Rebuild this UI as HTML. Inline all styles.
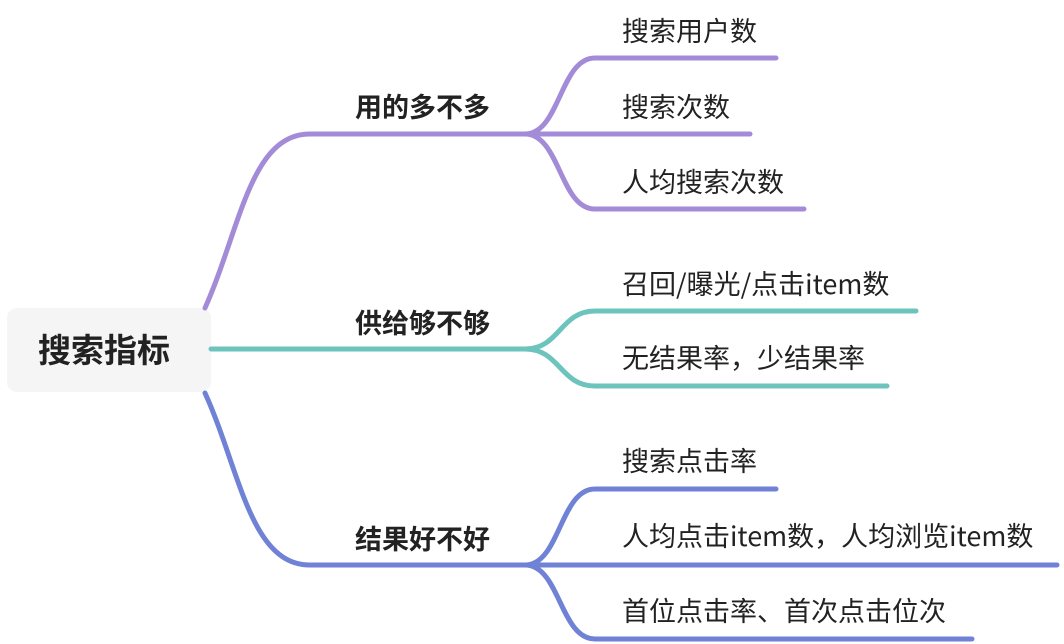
<!DOCTYPE html>
<html><head><meta charset="utf-8"><style>
body{margin:0;background:#fff;width:1064px;height:644px;overflow:hidden}
svg{display:block}
text{font-family:"Noto Sans CJK SC",sans-serif;fill:#222}
</style></head><body>
<svg width="1064" height="644" viewBox="0 0 1064 644">
<rect x="7" y="308" width="204" height="84" rx="10" fill="#f5f5f5"/>
<text x="38" y="362" font-size="33" font-weight="bold">搜索指标</text>
<g fill="none" stroke-width="5" stroke-linecap="round">
<path d="M205 308 C240 230 250 134 310 134 L525 134" stroke="#a48bd7"/>
<path d="M525 134 C560 134 560 58 595 58 L776 58" stroke="#a48bd7"/>
<path d="M525 134 L750 134" stroke="#a48bd7"/>
<path d="M525 134 C560 134 560 209 595 209 L804 209" stroke="#a48bd7"/>
<path d="M211 349 L525 349" stroke="#6dc4bd"/>
<path d="M525 349 C560 349 560 311 595 311 L916 311" stroke="#6dc4bd"/>
<path d="M525 349 C560 349 560 386 595 386 L887 386" stroke="#6dc4bd"/>
<path d="M205 393 C240 470 250 565 310 565 L525 565" stroke="#6f82d6"/>
<path d="M525 565 C560 565 560 489 595 489 L776 489" stroke="#6f82d6"/>
<path d="M525 565 L1057 565" stroke="#6f82d6"/>
<path d="M525 565 C560 565 560 639 595 639 L972 639" stroke="#6f82d6"/>
</g>
<g font-size="27" font-weight="bold">
<text x="355" y="117">用的多不多</text>
<text x="355" y="333">供给够不够</text>
<text x="355" y="549">结果好不好</text>
</g>
<g font-size="27">
<text x="622" y="41">搜索用户数</text>
<text x="622" y="117">搜索次数</text>
<text x="622" y="192">人均搜索次数</text>
<text x="622" y="294">召回/曝光/点击item数</text>
<text x="622" y="368">无结果率，少结果率</text>
<text x="622" y="471">搜索点击率</text>
<text x="622" y="546">人均点击item数，人均浏览item数</text>
<text x="622" y="621">首位点击率、首次点击位次</text>
</g>
</svg>
</body></html>
